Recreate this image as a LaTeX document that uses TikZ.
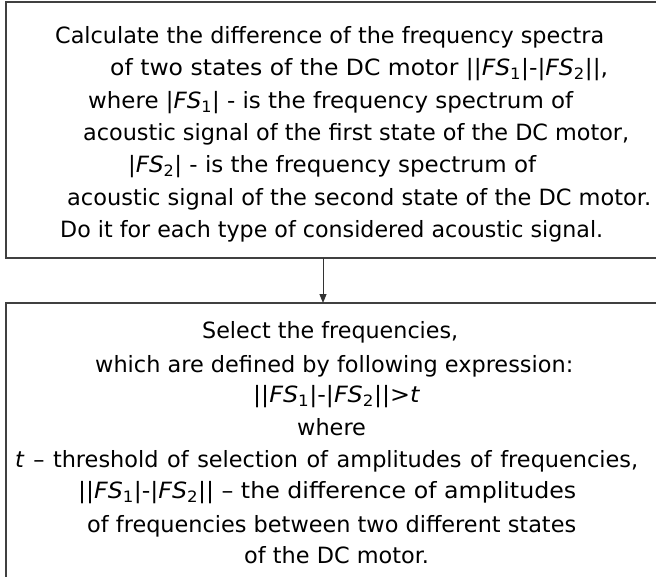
\documentclass[tikz,border=0pt]{standalone}
\usepackage{fontspec}
\setmainfont{DejaVu Sans}
\usetikzlibrary{arrows.meta}
\newcommand\FSx[1]{|\textit{FS}\textsubscript{#1}|}
\newcommand\Ln[2]{\resizebox{#1pt}{\height}{#2}}
\newcommand\Lns[2]{\makebox[#1pt][s]{#2}}
\tikzset{
  frame/.style={draw=black!75, line width=1.3pt, anchor=north west, inner sep=0pt, outer sep=0pt},
  txt/.style={anchor=base west, inner sep=0pt, text=black, font=\fontsize{22.4}{25}\selectfont},
  conn/.style={draw=black!80, line width=1pt, -{Triangle[length=9pt,width=7pt]}}
}
\begin{document}
\begin{tikzpicture}[x=1pt,y=-1pt]
\clip (0,0) rectangle (656,576);
\fill[white] (0,0) rectangle (656,576);
\node[frame, minimum width=680pt, minimum height=256pt] (box1) at (6,2) {};
\node[frame, minimum width=680pt, minimum height=280pt] (box2) at (6,303) {};
\coordinate (ax) at (323,0);
\draw[conn] (box1.south -| ax) -- (box2.north -| ax);
% top box
\node[txt] (t1) at (55,43) {\Ln{549}{Calculate the difference of the frequency spectra}};
\node[txt] (t2) at (110,75) {\Ln{498}{of two states of the DC motor |\FSx{1}-\FSx{2}|,}};
\node[txt] (t3) at (88,108) {\Ln{485}{where \FSx{1} - is the frequency spectrum of}};
\node[txt] (t4) at (83,140) {\Ln{546}{acoustic signal of the first state of the DC motor,}};
\node[txt] (t5) at (128,172) {\Ln{408}{\FSx{2} - is the frequency spectrum of}};
\node[txt] (t6) at (67,205) {\Ln{584}{acoustic signal of the second state of the DC motor.}};
\node[txt] (t7) at (60,237) {\Ln{543}{Do it for each type of considered acoustic signal.}};
% bottom box
\node[txt] (b1) at (202,338) {\Ln{256}{Select the frequencies,}};
\node[txt] (b2) at (95,372) {\Ln{478}{which are defined by following expression:}};
\node[txt] (b3) at (253,402) {\Ln{167}{|\FSx{1}-\FSx{2}|>\textit{t}}};
\node[txt] (b4) at (297,435) {where};
\node[txt] (b5) at (15,467) {\Lns{623}{\textit{t} – threshold of selection of amplitudes of frequencies,}};
\node[txt] (b6) at (78,498) {\Ln{498}{|\FSx{1}-\FSx{2}| – the difference of amplitudes}};
\node[txt] (b7) at (87,532) {\Ln{489}{of frequencies between two different states}};
\node[txt] (b8) at (244,563) {of the DC motor.};
\end{tikzpicture}
\end{document}
